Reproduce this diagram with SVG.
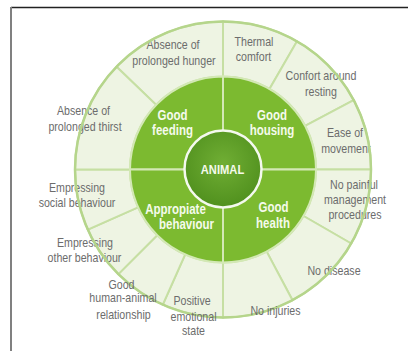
<svg xmlns="http://www.w3.org/2000/svg" width="408" height="351" viewBox="0 0 408 351">
<defs>
<radialGradient id="cg" cx="50%" cy="42%" r="55%">
<stop offset="0" stop-color="#70ae34"/>
<stop offset="1" stop-color="#52921f"/>
</radialGradient>
<style>
.seg{fill:#eef4e3;stroke:#c6dfa3;stroke-width:2}
.quad{fill:#7cba30;stroke:#d3e8b5;stroke-width:2}
.lbl{font-family:"Liberation Sans",Arial,sans-serif;font-size:12.5px;fill:#6c6c6c;text-anchor:middle}
.in{font-family:"Liberation Sans",Arial,sans-serif;font-size:14px;font-weight:bold;fill:#f5faec;text-anchor:middle}
</style>
</defs>
<rect width="408" height="351" fill="#ffffff"/>
<line x1="11" y1="7.5" x2="408" y2="7.5" stroke="#222" stroke-width="1.3"/>
<line x1="11" y1="7" x2="11" y2="351" stroke="#808080" stroke-width="2"/>

<g id="outer-ring">
<g id="seg-hunger"><path class="seg" d="M116.54 66.68 A148 148 0 0 1 223 21.5 L223 76.5 A93 93 0 0 0 156.11 104.89 Z"/>
<text class="lbl" transform="translate(173 49) scale(0.85 1)">Absence of</text><text class="lbl" transform="translate(174 65) scale(0.85 1)">prolonged hunger</text></g>
<g id="seg-thermal"><path class="seg" d="M223 21.5 A148 148 0 0 1 297 41.33 L269.5 88.96 A93 93 0 0 0 223 76.5 Z"/>
<text class="lbl" transform="translate(254 46) scale(0.85 1)">Thermal</text><text class="lbl" transform="translate(253.5 61) scale(0.85 1)">comfort</text></g>
<g id="seg-resting"><path class="seg" d="M297 41.33 A148 148 0 0 1 353.67 100.01 L305.11 125.84 A93 93 0 0 0 269.5 88.96 Z"/>
<text class="lbl" transform="translate(321 80) scale(0.85 1)">Confort around</text><text class="lbl" transform="translate(321 96) scale(0.85 1)">resting</text></g>
<g id="seg-movement"><path class="seg" d="M353.67 100.01 A148 148 0 0 1 371 169.5 L316 169.5 A93 93 0 0 0 305.11 125.84 Z"/>
<text class="lbl" transform="translate(345 137) scale(0.85 1)">Ease of</text><text class="lbl" transform="translate(346 153) scale(0.85 1)">movement</text></g>
<g id="seg-painful"><path class="seg" d="M371 169.5 A148 148 0 0 1 351.17 243.5 L303.54 216 A93 93 0 0 0 316 169.5 Z"/>
<text class="lbl" transform="translate(354 188.5) scale(0.85 1)">No painful</text><text class="lbl" transform="translate(355 203.5) scale(0.85 1)">management</text><text class="lbl" transform="translate(355 218.5) scale(0.85 1)">procedures</text></g>
<g id="seg-disease"><path class="seg" d="M351.17 243.5 A148 148 0 0 1 292.49 300.17 L266.66 251.61 A93 93 0 0 0 303.54 216 Z"/>
<text class="lbl" transform="translate(334 275) scale(0.85 1)">No disease</text></g>
<g id="seg-injuries"><path class="seg" d="M292.49 300.17 A148 148 0 0 1 223 317.5 L223 262.5 A93 93 0 0 0 266.66 251.61 Z"/></g>
<g id="seg-positive"><path class="seg" d="M223 317.5 A148 148 0 0 1 162.81 304.7 L185.18 254.46 A93 93 0 0 0 223 262.5 Z"/></g>
<g id="seg-human"><path class="seg" d="M162.81 304.7 A148 148 0 0 1 118.35 274.15 L157.24 235.26 A93 93 0 0 0 185.18 254.46 Z"/></g>
<g id="seg-other"><path class="seg" d="M118.35 274.15 A148 148 0 0 1 87.8 229.69 L138.04 207.32 A93 93 0 0 0 157.24 235.26 Z"/>
<text class="lbl" transform="translate(85 247) scale(0.85 1)">Empressing</text><text class="lbl" transform="translate(84.5 262) scale(0.85 1)">other behaviour</text></g>
<g id="seg-social"><path class="seg" d="M87.8 229.69 A148 148 0 0 1 75 169.5 L130 169.5 A93 93 0 0 0 138.04 207.32 Z"/>
<text class="lbl" transform="translate(77 192) scale(0.85 1)">Empressing</text><text class="lbl" transform="translate(77 207) scale(0.85 1)">social behaviour</text></g>
<g id="seg-thirst"><path class="seg" d="M75 169.5 A148 148 0 0 1 116.54 66.68 L156.11 104.89 A93 93 0 0 0 130 169.5 Z"/>
<text class="lbl" transform="translate(83.5 115) scale(0.85 1)">Absence of</text><text class="lbl" transform="translate(85 131) scale(0.85 1)">prolonged thirst</text></g>
<circle cx="223" cy="169.5" r="148" fill="none" stroke="#b5d58b" stroke-width="2.5"/>
</g>

<g id="bottom-labels">
<text class="lbl" transform="translate(275.5 315) scale(0.85 1)">No injuries</text>
<text class="lbl" transform="translate(192 305) scale(0.85 1)">Positive</text><text class="lbl" transform="translate(193.5 320.5) scale(0.85 1)">emotional</text><text class="lbl" transform="translate(193.5 335) scale(0.85 1)">state</text>
<text class="lbl" transform="translate(121.5 288.5) scale(0.85 1)">Good</text><text class="lbl" transform="translate(123 302) scale(0.85 1)">human-animal</text><text class="lbl" transform="translate(123.5 318.5) scale(0.85 1)">relationship</text>
</g>

<g id="good-feeding"><path class="quad" d="M223 169.5 L130 169.5 A93 93 0 0 1 223 76.5 Z"/>
<text class="in" transform="translate(172.5 120) scale(0.82 1)">Good</text><text class="in" transform="translate(172.5 135) scale(0.82 1)">feeding</text></g>
<g id="good-housing"><path class="quad" d="M223 169.5 L223 76.5 A93 93 0 0 1 316 169.5 Z"/>
<text class="in" transform="translate(272 120) scale(0.82 1)">Good</text><text class="in" transform="translate(272 135) scale(0.82 1)">housing</text></g>
<g id="good-health"><path class="quad" d="M223 169.5 L316 169.5 A93 93 0 0 1 223 262.5 Z"/>
<text class="in" transform="translate(273.5 212) scale(0.82 1)">Good</text><text class="in" transform="translate(273 228) scale(0.82 1)">health</text></g>
<g id="appropiate-behaviour"><path class="quad" d="M223 169.5 L223 262.5 A93 93 0 0 1 130 169.5 Z"/>
<text class="in" transform="translate(175.5 213.5) scale(0.82 1)">Appropiate</text><text class="in" transform="translate(186.5 229) scale(0.82 1)">behaviour</text></g>

<g id="animal">
<circle cx="223" cy="169" r="38.5" fill="url(#cg)" stroke="#f4f9ee" stroke-width="2.5"/>
<text class="in" transform="translate(222.5 173.5) scale(0.86 1)" style="font-size:13px">ANIMAL</text>
</g>
</svg>
